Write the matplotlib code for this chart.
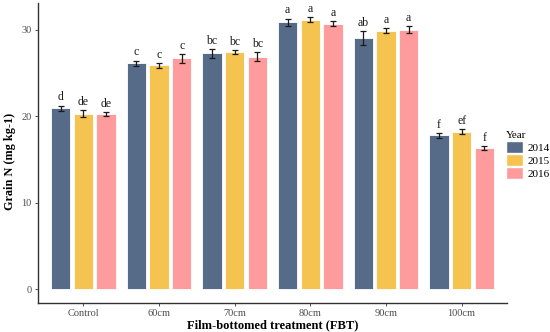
import matplotlib
matplotlib.use("Agg")
import matplotlib.pyplot as plt
import numpy as np
from matplotlib.patches import Patch

plt.rcParams["font.family"] = ["Liberation Serif", "DejaVu Serif"]

treatments = ["Control", "60cm", "70cm", "80cm", "90cm", "100cm"]
years = ["2014", "2015", "2016"]
colors = ["#566b88", "#f5c34f", "#fe9b9c"]

grain_2014 = [20.95, 26.15, 27.3, 30.9, 29.1, 17.8]
grain_2015 = [20.3, 25.9, 27.45, 31.15, 29.9, 18.25]
grain_2016 = [20.25, 26.7, 26.9, 30.7, 30.0, 16.35]
err_2014 = [0.3, 0.3, 0.5, 0.4, 0.8, 0.3]
err_2015 = [0.4, 0.3, 0.2, 0.3, 0.3, 0.25]
err_2016 = [0.25, 0.5, 0.5, 0.3, 0.4, 0.2]
letters_2014 = ["d", "c", "bc", "a", "ab", "f"]
letters_2015 = ["de", "c", "bc", "a", "a", "ef"]
letters_2016 = ["de", "c", "bc", "a", "a", "f"]

means = [grain_2014, grain_2015, grain_2016]
errs = [err_2014, err_2015, err_2016]
letters = [letters_2014, letters_2015, letters_2016]

fig = plt.figure(figsize=(5.5, 3.32), dpi=100)
ax = fig.add_axes([38 / 550, 29 / 332, 469 / 550, 300 / 332])

x = np.arange(1, len(treatments) + 1)
offsets = [-0.3, 0.0, 0.3]
for i in range(3):
    xi = x + offsets[i]
    ax.bar(xi, means[i], width=0.255, color=colors[i], edgecolor="white",
           linewidth=0.6)
    ax.errorbar(xi, means[i], yerr=errs[i], fmt="none", ecolor="#1a1a1a",
                elinewidth=0.9, capsize=2.5, capthick=0.9)
    for xx, m, e, lab in zip(xi, means[i], errs[i], letters[i]):
        ax.text(xx, m + e + 0.25, lab, ha="center", va="bottom",
                fontsize=8.5, color="#1a1a1a")

ax.set_xlim(0.4, 6.6)
ax.set_ylim(-1.56, 33.1)
ax.set_xticks(x)
ax.set_xticklabels(treatments)
ax.set_yticks([0, 10, 20, 30])
ax.tick_params(axis="both", labelsize=7.5, labelcolor="#4d4d4d",
               color="#333333", length=2.5, width=0.6, pad=2)
for s in ["top", "right"]:
    ax.spines[s].set_visible(False)
for s in ["left", "bottom"]:
    ax.spines[s].set_color("#333333")
    ax.spines[s].set_linewidth(1.0)

ax.set_xlabel("Film-bottomed treatment (FBT)", fontsize=9,
              fontweight="bold", labelpad=1)
ax.set_ylabel("Grain N (mg kg-1)", fontsize=8.8, fontweight="bold",
              va="center")
ax.yaxis.set_label_coords(-0.06, 0.473)

handles = [Patch(facecolor=c, edgecolor="white") for c in colors]
leg = fig.legend(handles, years, title="Year", loc="upper left",
                 bbox_to_anchor=(504 / 550, 1 - 129 / 332), frameon=False,
                 fontsize=8, title_fontsize=8, handlelength=1.5,
                 handleheight=1.35, handletextpad=0.4, labelspacing=0.05,
                 borderaxespad=0, borderpad=0.2)
leg._legend_box.align = "left"

fig.savefig("out.png", dpi=100)
